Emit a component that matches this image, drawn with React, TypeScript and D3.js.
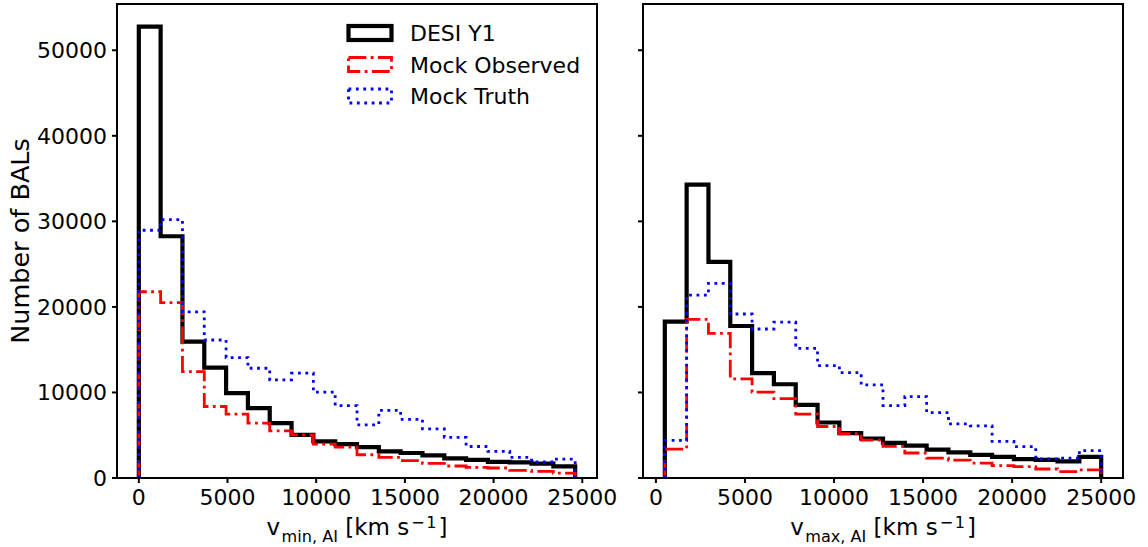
import React from "react";
import * as d3 from "d3";

// ---- data ----
const leftBinStart = 0;
const leftBinWidth = 1230;
const rightBinStart = 500;
const rightBinWidth = 1225;

const vminDesi = [52770, 28260, 15940, 12900, 9920, 8170, 6420, 5050, 4270, 3950, 3620, 3110, 2920, 2640, 2300, 2120, 1880, 1820, 1670, 1350];
const vminMockObs = [21770, 20490, 12440, 8360, 7460, 6415, 5520, 5050, 3965, 3600, 2720, 2400, 2020, 1700, 1400, 1240, 1170, 890, 770, 580];
const vminMockTruth = [28960, 30210, 19430, 16130, 14070, 12830, 11470, 12250, 10030, 8470, 6220, 7900, 6860, 5750, 4750, 3680, 3110, 2400, 1870, 2200];

const vmaxDesi = [18270, 34290, 25270, 17770, 12250, 10960, 8550, 6490, 5250, 4620, 4100, 3780, 3320, 3000, 2700, 2480, 2210, 2130, 1940, 2480];
const vmaxMockObs = [3380, 18550, 16910, 11580, 10030, 9290, 7460, 6020, 5170, 4420, 3700, 2920, 2330, 2100, 1750, 1435, 1330, 1050, 740, 940];
const vmaxMockTruth = [4390, 21380, 22750, 19170, 17420, 18230, 15160, 13140, 12320, 10880, 8470, 9520, 7650, 6330, 6100, 4270, 3660, 2230, 2330, 3200];

const xTicks = [0, 5000, 10000, 15000, 20000, 25000];
const yTicks = [0, 10000, 20000, 30000, 40000, 50000];
const legendLabels = ["DESI Y1", "Mock Observed", "Mock Truth"];

// ---- styles ----
const FONT = "DejaVu Sans, sans-serif";
const FS = 22;
const LABEL_FS = 23;
const seriesStyles = [
  { stroke: "#000000", width: 4.2, dash: "" },
  { stroke: "#ff0000", width: 2.8, dash: "17.8,4.4,2.8,4.4" },
  { stroke: "#0000ff", width: 2.8, dash: "2.8,4.6" },
];

const top = 4;
const bottom = 478;
const yMax = Math.max(...vminDesi, ...vminMockObs, ...vminMockTruth, ...vmaxDesi, ...vmaxMockObs, ...vmaxMockTruth) * 1.05;
const y = d3.scaleLinear().domain([0, yMax]).range([bottom, top]);

function edges(start: number, w: number, n: number) {
  return d3.range(n + 1).map((i) => start + i * w);
}

function stepPath(x: d3.ScaleLinear<number, number>, e: number[], v: number[]) {
  const pts: [number, number][] = [[e[0], 0]];
  v.forEach((val, i) => {
    pts.push([e[i], val]);
    pts.push([e[i + 1], val]);
  });
  pts.push([e[e.length - 1], 0]);
  return d3.line<[number, number]>().x((d) => x(d[0])).y((d) => y(d[1]))(pts) || "";
}

function Panel({ left, right, series, e, showYLabels, sub }: any) {
  const lo = e[0];
  const hi = e[e.length - 1];
  const m = (hi - lo) * 0.05;
  const x = d3.scaleLinear().domain([lo - m, hi + m]).range([left, right]);
  const subFs = LABEL_FS * 0.7;
  return (
    <g>
      {series.map((v: number[], i: number) => (
        <path
          key={i}
          d={stepPath(x, e, v)}
          fill="none"
          stroke={seriesStyles[i].stroke}
          strokeWidth={seriesStyles[i].width}
          strokeDasharray={seriesStyles[i].dash || undefined}
          strokeLinejoin="miter"
        />
      ))}
      <rect x={left} y={top} width={right - left} height={bottom - top} fill="none" stroke="#000" strokeWidth={2} />
      {xTicks.map((t) => (
        <g key={t}>
          <line x1={x(t)} x2={x(t)} y1={bottom} y2={bottom + 5} stroke="#000" strokeWidth={2} />
          <text x={x(t)} y={bottom + 27} fontSize={FS} fontFamily={FONT} textAnchor="middle">
            {t}
          </text>
        </g>
      ))}
      {yTicks.map((t) => (
        <g key={t}>
          <line x1={left - 5} x2={left} y1={y(t)} y2={y(t)} stroke="#000" strokeWidth={2} />
          {showYLabels && (
            <text x={left - 10} y={y(t) + 8} fontSize={FS} fontFamily={FONT} textAnchor="end">
              {t}
            </text>
          )}
        </g>
      ))}
      <text x={(left + right) / 2} y={535} fontSize={LABEL_FS} fontFamily={FONT} textAnchor="middle">
        <tspan>v</tspan>
        <tspan fontSize={subFs} dx={1.5} dy={7}>{sub}</tspan>
        <tspan dy={-7}> [km s</tspan>
        <tspan fontSize={subFs} dx={2} dy={-7}>−</tspan>
        <tspan fontSize={subFs} dx={1.5}>1</tspan>
        <tspan dx={2} dy={7}>]</tspan>
      </text>
    </g>
  );
}

export default function App() {
  const leftEdges = edges(leftBinStart, leftBinWidth, vminDesi.length);
  const rightEdges = edges(rightBinStart, rightBinWidth, vmaxDesi.length);
  const legendY = [33, 64.5, 96];
  return (
    <svg width={1148} height={547} style={{ position: "absolute", left: 0, top: 0, background: "#fff" }}>
      <rect x={0} y={0} width={1148} height={547} fill="#fff" />
      <Panel left={117} right={597} series={[vminDesi, vminMockObs, vminMockTruth]} e={leftEdges} showYLabels={true} sub="min, AI" />
      <Panel left={643} right={1123} series={[vmaxDesi, vmaxMockObs, vmaxMockTruth]} e={rightEdges} showYLabels={false} sub="max, AI" />
      <text
        transform={`translate(28.5, ${(top + bottom) / 2}) rotate(-90)`}
        fontSize={25.5}
        fontFamily={FONT}
        textAnchor="middle"
      >
        Number of BALs
      </text>
      {legendLabels.map((lab, i) => (
        <g key={lab}>
          <rect
            x={348.5}
            y={legendY[i] - 7}
            width={43}
            height={14}
            fill="none"
            stroke={seriesStyles[i].stroke}
            strokeWidth={seriesStyles[i].width}
            strokeDasharray={seriesStyles[i].dash || undefined}
          />
          <text x={410} y={legendY[i] + 8} fontSize={FS} fontFamily={FONT}>
            {lab}
          </text>
        </g>
      ))}
    </svg>
  );
}
